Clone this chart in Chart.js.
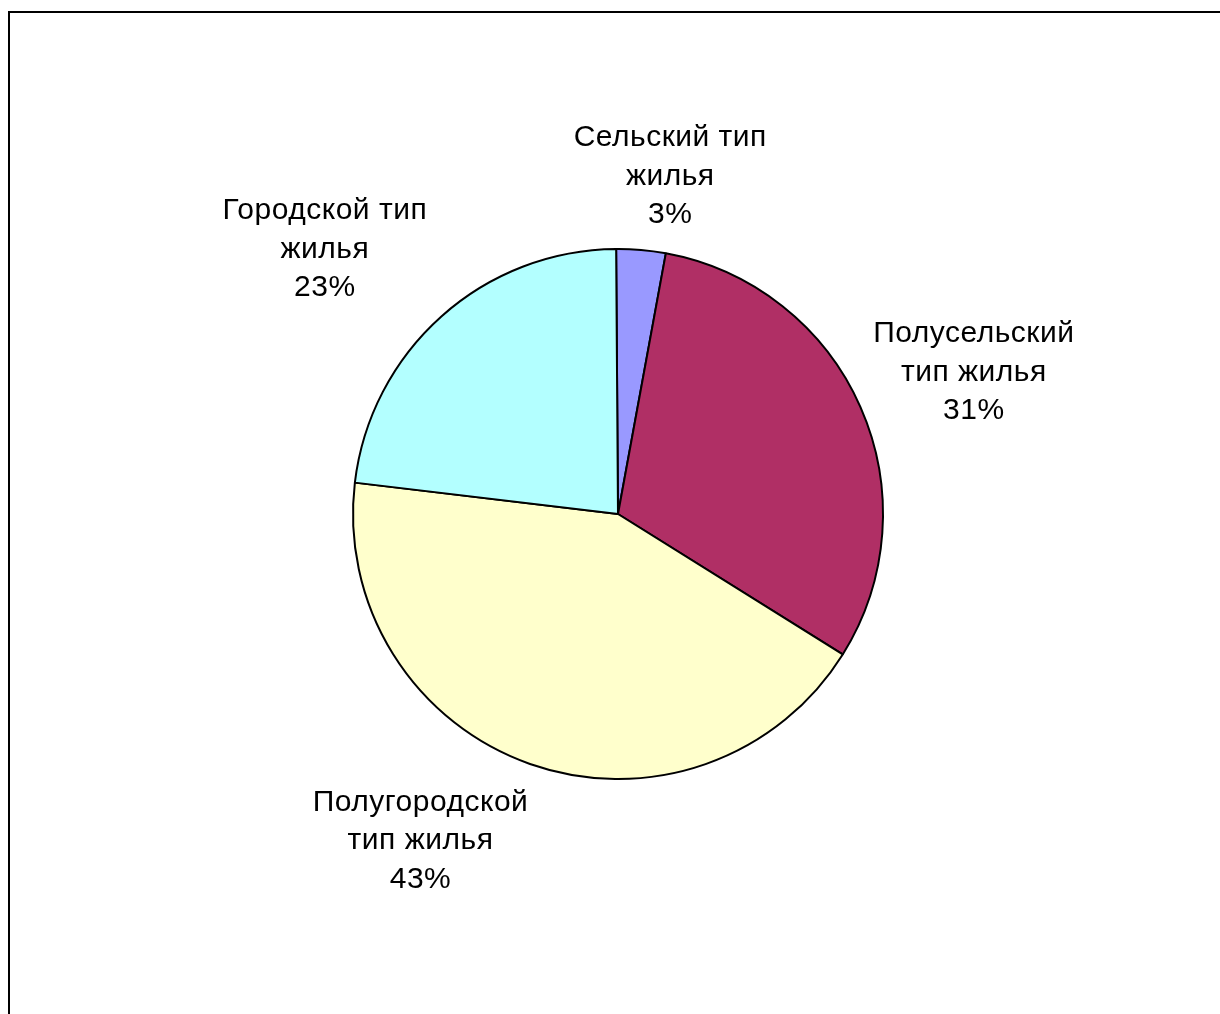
<!DOCTYPE html>
<html lang="ru">
<head>
<meta charset="utf-8">
<title>Типы жилья</title>
<script src="https://cdn.jsdelivr.net/npm/chart.js@4/dist/chart.umd.min.js"></script>
<style>
    html, body {
        margin: 0;
        padding: 0;
        background: #fff;
        overflow: hidden;
    }
    #frame {
        position: absolute;
        left: 8px;
        top: 11px;
        width: 1400px;
        height: 1200px;
        border-left: 2px solid #000;
        border-top: 2px solid #000;
    }
    #wrap {
        position: absolute;
        left: 0;
        top: 0;
        width: 1220px;
        height: 1014px;
    }
</style>
</head>
<body>
<div id="frame"></div>
<div id="wrap"><canvas id="chartCanvas" width="1220" height="1014"></canvas></div>
<script>
// данные диаграммы
const categories = [
    ['Сельский тип', 'жилья'],
    ['Полусельский', 'тип жилья'],
    ['Полугородской', 'тип жилья'],
    ['Городской тип', 'жилья']
];
const shares = [3, 31, 43, 23];
const sliceColors = ['#9999FF', '#B02F65', '#FFFFCC', '#B3FFFF'];

// сдвиг подписей относительно места по умолчанию (px)
const labelNudge = [[19, -7], [3, -9], [-67, 9], [-35, -18]];

const labelFont = '30px "Liberation Sans", Arial, sans-serif';
const lineHeight = 38.5;
const capHeight = 21.5;

const outsideLabels = {
    id: 'outsideLabels',
    afterDatasetsDraw(chart) {
        const ctx = chart.ctx;
        const meta = chart.getDatasetMeta(0);
        ctx.save();
        ctx.font = labelFont;
        ctx.letterSpacing = '0.5px';
        ctx.fillStyle = '#000';
        ctx.textAlign = 'center';
        ctx.textBaseline = 'alphabetic';
        meta.data.forEach((arc, i) => {
            const p = arc.getProps(['x', 'y', 'startAngle', 'endAngle', 'outerRadius'], true);
            const mid = (p.startAngle + p.endAngle) / 2;
            const ux = Math.cos(mid);
            const uy = Math.sin(mid);
            const lines = [...categories[i], shares[i] + '%'];
            const w = Math.max(...lines.map(l => ctx.measureText(l).width));
            const h = capHeight + (lines.length - 1) * lineHeight;
            const gap = 20;
            const cx = p.x + ux * (p.outerRadius + gap) + ux * w / 2 + labelNudge[i][0];
            const cy = p.y + uy * (p.outerRadius + gap) + uy * h / 2 + labelNudge[i][1];
            const top = cy - h / 2 + capHeight;
            lines.forEach((line, k) => {
                ctx.fillText(line, cx, top + k * lineHeight);
            });
        });
        ctx.restore();
    }
};

const ctx = document.getElementById('chartCanvas').getContext('2d');
new Chart(ctx, {
    type: 'pie',
    data: {
        labels: categories.map(c => c.join(' ')),
        datasets: [{
            data: shares,
            backgroundColor: sliceColors,
            borderColor: '#000',
            borderWidth: 2
        }]
    },
    options: {
        responsive: false,
        animation: false,
        rotation: -0.4,
        layout: {
            padding: { top: 248, bottom: 234, left: 352, right: 336 }
        },
        plugins: {
            legend: { display: false },
            tooltip: { enabled: false }
        }
    },
    plugins: [outsideLabels]
});
</script>
</body>
</html>
